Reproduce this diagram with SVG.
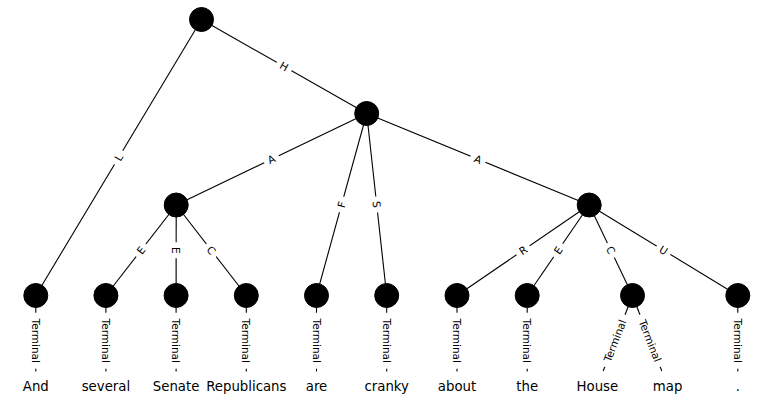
<svg xmlns="http://www.w3.org/2000/svg" width="774" height="407" viewBox="0 0 774 407">
<style>
.e{stroke:#000;stroke-width:1.1;fill:none}
.n{fill:#000;stroke:#000;stroke-width:1}
.lb rect{fill:#fff;stroke:none}
.lb text{font-family:"DejaVu Sans",sans-serif;font-size:10.5px;text-anchor:middle;fill:#000}
.w{font-family:"DejaVu Sans",sans-serif;font-size:13.3px;text-anchor:middle;fill:#000}
</style>
<rect width="774" height="407" fill="#fff"/>
<g id="connectors">
<line class="e" x1="201.5" y1="19.5" x2="366.7" y2="113.5"/>
<line class="e" x1="201.5" y1="19.5" x2="35.8" y2="295.5"/>
<line class="e" x1="366.7" y1="113.5" x2="176.2" y2="205"/>
<line class="e" x1="366.7" y1="113.5" x2="589.2" y2="205"/>
<line class="e" x1="366.7" y1="113.5" x2="316.5" y2="295.5"/>
<line class="e" x1="366.7" y1="113.5" x2="386.7" y2="295.5"/>
<line class="e" x1="176.2" y1="205" x2="105.9" y2="295.5"/>
<line class="e" x1="176.2" y1="205" x2="176.1" y2="295.5"/>
<line class="e" x1="176.2" y1="205" x2="246.3" y2="295.5"/>
<line class="e" x1="589.2" y1="205" x2="457" y2="295.5"/>
<line class="e" x1="589.2" y1="205" x2="527.2" y2="295.5"/>
<line class="e" x1="589.2" y1="205" x2="632.5" y2="295.5"/>
<line class="e" x1="589.2" y1="205" x2="737.8" y2="295.5"/>
<line class="e" x1="35.8" y1="295.5" x2="35.8" y2="371.5"/>
<line class="e" x1="105.9" y1="295.5" x2="105.9" y2="371.5"/>
<line class="e" x1="176.1" y1="295.5" x2="176.1" y2="371.5"/>
<line class="e" x1="246.3" y1="295.5" x2="246.3" y2="371.5"/>
<line class="e" x1="316.5" y1="295.5" x2="316.5" y2="371.5"/>
<line class="e" x1="386.7" y1="295.5" x2="386.7" y2="371.5"/>
<line class="e" x1="457" y1="295.5" x2="457" y2="371.5"/>
<line class="e" x1="527.2" y1="295.5" x2="527.2" y2="371.5"/>
<line class="e" x1="632.5" y1="295.5" x2="603.2" y2="371"/>
<line class="e" x1="632.5" y1="295.5" x2="661.8" y2="371"/>
<line class="e" x1="737.8" y1="295.5" x2="737.8" y2="371.5"/>
<g class="lb">
<g transform="translate(284.1,66.5) rotate(29.6)"><rect x="-8.5" y="-6.5" width="17" height="13" rx="2"/><text y="3.8">H</text></g>
<g transform="translate(118.65,157.5) rotate(-59)"><rect x="-8" y="-6.5" width="16" height="13" rx="2"/><text y="3.8">L</text></g>
<g transform="translate(271.45,159.25) rotate(-25.7)"><rect x="-8" y="-6.5" width="16" height="13" rx="2"/><text y="3.8">A</text></g>
<g transform="translate(477.95,159.25) rotate(22.4)"><rect x="-8" y="-6.5" width="16" height="13" rx="2"/><text y="3.8">A</text></g>
<g transform="translate(341.6,204.5) rotate(-74.6)"><rect x="-8" y="-6.5" width="16" height="13" rx="2"/><text y="3.8">F</text></g>
<g transform="translate(376.7,204.5) rotate(83.7)"><rect x="-8" y="-6.5" width="16" height="13" rx="2"/><text y="3.8">S</text></g>
<g transform="translate(141.05,250.25) rotate(-52.2)"><rect x="-8" y="-6.5" width="16" height="13" rx="2"/><text y="3.8">E</text></g>
<g transform="translate(176.15,250.25) rotate(90)"><rect x="-8" y="-6.5" width="16" height="13" rx="2"/><text y="3.8">E</text></g>
<g transform="translate(211.25,250.25) rotate(52.2)"><rect x="-8" y="-6.5" width="16" height="13" rx="2"/><text y="3.8">C</text></g>
<g transform="translate(523.1,250.25) rotate(-34.4)"><rect x="-8" y="-6.5" width="16" height="13" rx="2"/><text y="3.8">R</text></g>
<g transform="translate(558.2,250.25) rotate(-55.6)"><rect x="-8" y="-6.5" width="16" height="13" rx="2"/><text y="3.8">E</text></g>
<g transform="translate(610.85,250.25) rotate(64.4)"><rect x="-8" y="-6.5" width="16" height="13" rx="2"/><text y="3.8">C</text></g>
<g transform="translate(663.5,250.25) rotate(31.3)"><rect x="-8" y="-6.5" width="16" height="13" rx="2"/><text y="3.8">U</text></g>
<g transform="translate(35.8,340.75) rotate(90)"><rect x="-28" y="-6.5" width="56" height="13" rx="2"/><text y="3.8">Terminal</text></g>
<g transform="translate(105.9,340.75) rotate(90)"><rect x="-28" y="-6.5" width="56" height="13" rx="2"/><text y="3.8">Terminal</text></g>
<g transform="translate(176.1,340.75) rotate(90)"><rect x="-28" y="-6.5" width="56" height="13" rx="2"/><text y="3.8">Terminal</text></g>
<g transform="translate(246.3,340.75) rotate(90)"><rect x="-28" y="-6.5" width="56" height="13" rx="2"/><text y="3.8">Terminal</text></g>
<g transform="translate(316.5,340.75) rotate(90)"><rect x="-28" y="-6.5" width="56" height="13" rx="2"/><text y="3.8">Terminal</text></g>
<g transform="translate(386.7,340.75) rotate(90)"><rect x="-28" y="-6.5" width="56" height="13" rx="2"/><text y="3.8">Terminal</text></g>
<g transform="translate(457,340.75) rotate(90)"><rect x="-28" y="-6.5" width="56" height="13" rx="2"/><text y="3.8">Terminal</text></g>
<g transform="translate(527.2,340.75) rotate(90)"><rect x="-28" y="-6.5" width="56" height="13" rx="2"/><text y="3.8">Terminal</text></g>
<g transform="translate(614.95,340.75) rotate(-68.8)"><rect x="-28" y="-6.5" width="56" height="13" rx="2"/><text y="3.8">Terminal</text></g>
<g transform="translate(650.05,340.75) rotate(68.8)"><rect x="-28" y="-6.5" width="56" height="13" rx="2"/><text y="3.8">Terminal</text></g>
<g transform="translate(737.8,340.75) rotate(90)"><rect x="-28" y="-6.5" width="56" height="13" rx="2"/><text y="3.8">Terminal</text></g>
</g>
</g>
<g id="n0"><circle class="n" cx="201.5" cy="19.5" r="12"/></g>
<g id="n1"><circle class="n" cx="366.7" cy="113.5" r="12"/></g>
<g id="n2"><circle class="n" cx="176.2" cy="205" r="12"/></g>
<g id="n3"><circle class="n" cx="589.2" cy="205" r="12"/></g>
<g id="n4"><circle class="n" cx="35.8" cy="295.5" r="12"/></g>
<g id="n5"><circle class="n" cx="105.9" cy="295.5" r="12"/></g>
<g id="n6"><circle class="n" cx="176.1" cy="295.5" r="12"/></g>
<g id="n7"><circle class="n" cx="246.3" cy="295.5" r="12"/></g>
<g id="n8"><circle class="n" cx="316.5" cy="295.5" r="12"/></g>
<g id="n9"><circle class="n" cx="386.7" cy="295.5" r="12"/></g>
<g id="n10"><circle class="n" cx="457" cy="295.5" r="12"/></g>
<g id="n11"><circle class="n" cx="527.2" cy="295.5" r="12"/></g>
<g id="n12"><circle class="n" cx="632.5" cy="295.5" r="12"/></g>
<g id="n13"><circle class="n" cx="737.8" cy="295.5" r="12"/></g>
<g id="w-and"><text class="w" x="35.8" y="391">And</text></g>
<g id="w-several"><text class="w" x="105.9" y="391">several</text></g>
<g id="w-senate"><text class="w" x="176.1" y="391">Senate</text></g>
<g id="w-republicans"><text class="w" x="246.3" y="391">Republicans</text></g>
<g id="w-are"><text class="w" x="316.5" y="391">are</text></g>
<g id="w-cranky"><text class="w" x="386.7" y="391">cranky</text></g>
<g id="w-about"><text class="w" x="457" y="391">about</text></g>
<g id="w-the"><text class="w" x="527.2" y="391">the</text></g>
<g id="w-house"><text class="w" x="597.4" y="391">House</text></g>
<g id="w-map"><text class="w" x="667.6" y="391">map</text></g>
<g id="w-dot"><text class="w" x="737.8" y="391">.</text></g>
</svg>
